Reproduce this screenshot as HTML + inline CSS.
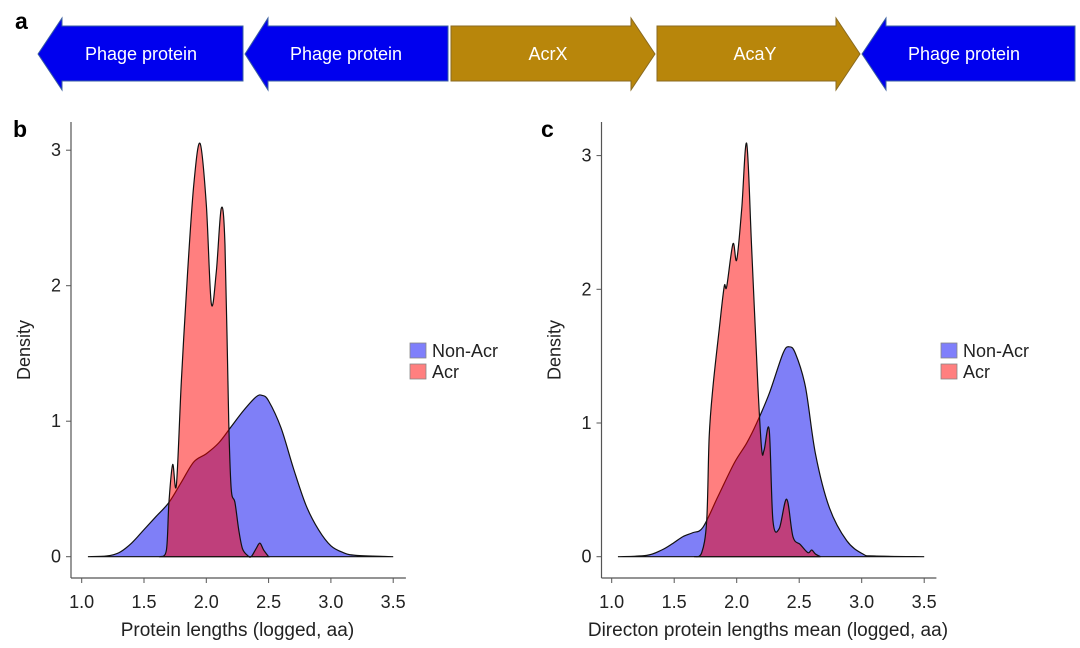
<!DOCTYPE html>
<html><head><meta charset="utf-8">
<style>
body{margin:0;background:#fff;font-family:"Liberation Sans",sans-serif;}
svg text{font-family:"Liberation Sans",sans-serif;}
</style></head>
<body>
<svg id="fig" width="1080" height="643" viewBox="0 0 1080 643">
  <g>
    <text x="15" y="29" font-size="23" font-weight="bold">a</text>
    <polygon points="38,54 62,18 62,26 243,26 243,81 62,81 62,90" fill="#0000ee" stroke="#3a5fa0" stroke-width="1"/>
    <text x="141" y="60" font-size="18" fill="#fff" text-anchor="middle">Phage protein</text>
    <polygon points="245,54 268,18 268,26 448,26 448,81 268,81 268,90" fill="#0000ee" stroke="#3a5fa0" stroke-width="1"/>
    <text x="346" y="60" font-size="18" fill="#fff" text-anchor="middle">Phage protein</text>
    <polygon points="451,26 631,26 631,18 655,54 631,90 631,81 451,81" fill="#b8860b" stroke="#8a6a20" stroke-width="1"/>
    <text x="548" y="60" font-size="18" fill="#fff" text-anchor="middle">AcrX</text>
    <polygon points="657,26 836,26 836,18 860,54 836,90 836,81 657,81" fill="#b8860b" stroke="#8a6a20" stroke-width="1"/>
    <text x="755" y="60" font-size="18" fill="#fff" text-anchor="middle">AcaY</text>
    <polygon points="862,54 886,18 886,26 1075,26 1075,81 886,81 886,90" fill="#0000ee" stroke="#3a5fa0" stroke-width="1"/>
    <text x="964" y="60" font-size="18" fill="#fff" text-anchor="middle">Phage protein</text>
  </g>
  <text x="13" y="137" font-size="23" font-weight="bold">b</text>
  <text x="541" y="137" font-size="23" font-weight="bold">c</text>
  <g id="chartB"></g>
  <g id="chartC"></g>
</svg>
<script>
const xTicks=[1.0,1.5,2.0,2.5,3.0,3.5];
const xTickLabels=["1.0","1.5","2.0","2.5","3.0","3.5"];
const yTicks=[0,1,2,3];
const yTickLabels=["0","1","2","3"];
const seriesNames=["Non-Acr","Acr"];
const bNonAcrX=[1.05,1.2,1.3,1.4,1.5,1.6,1.7,1.8,1.9,2.0,2.1,2.2,2.3,2.4,2.45,2.5,2.6,2.7,2.8,2.9,3.0,3.1,3.2,3.5];
const bNonAcrY=[0,0.005,0.03,0.1,0.2,0.3,0.4,0.55,0.7,0.76,0.84,0.96,1.08,1.18,1.19,1.15,0.95,0.65,0.38,0.2,0.08,0.03,0.01,0];
const bAcrX=[1.63,1.68,1.70,1.73,1.76,1.80,1.85,1.90,1.95,2.00,2.04,2.08,2.12,2.15,2.18,2.20,2.23,2.26,2.29,2.33,2.36,2.40,2.43,2.46,2.50];
const bAcrY=[0,0.05,0.4,0.68,0.53,1.3,2.1,2.75,3.05,2.6,1.87,2.1,2.57,2.3,1.0,0.5,0.4,0.2,0.06,0.01,0,0.06,0.1,0.05,0];
const cNonAcrX=[1.05,1.28,1.4,1.49,1.57,1.65,1.73,1.85,1.98,2.08,2.16,2.26,2.37,2.42,2.47,2.55,2.63,2.74,2.88,3.01,3.1,3.5];
const cNonAcrY=[0,0.01,0.05,0.1,0.15,0.18,0.22,0.45,0.7,0.85,1.0,1.22,1.52,1.57,1.52,1.27,0.77,0.37,0.12,0.02,0.005,0];
const cAcrX=[1.66,1.72,1.76,1.78,1.81,1.86,1.90,1.92,1.97,2.00,2.04,2.08,2.12,2.17,2.20,2.22,2.26,2.29,2.34,2.40,2.45,2.51,2.57,2.60,2.63,2.67];
const cAcrY=[0,0.03,0.27,0.9,1.27,1.7,2.02,2.02,2.34,2.22,2.6,3.09,2.3,1.27,0.8,0.8,0.95,0.27,0.21,0.43,0.15,0.09,0.03,0.05,0.02,0];

const NS="http://www.w3.org/2000/svg";
function mk(tag,attrs,parent){const e=document.createElementNS(NS,tag);for(const k in attrs)e.setAttribute(k,attrs[k]);parent.appendChild(e);return e;}
function smooth(pts){let d="M"+pts[0][0]+","+pts[0][1];for(let i=0;i<pts.length-1;i++){const p0=pts[Math.max(0,i-1)],p1=pts[i],p2=pts[i+1],p3=pts[Math.min(pts.length-1,i+2)];const t=6;const c1=[p1[0]+(p2[0]-p0[0])/t,p1[1]+(p2[1]-p0[1])/t];const c2=[p2[0]-(p3[0]-p1[0])/t,p2[1]-(p3[1]-p1[1])/t];d+=" C"+c1[0]+","+c1[1]+" "+c2[0]+","+c2[1]+" "+p2[0]+","+p2[1];}return d;}
function chart(g,cfg){
  const sx=v=>cfg.x0+(v-1)*cfg.xs, sy=v=>cfg.y0-v*cfg.ys;
  let e;
  e=mk("line",{x1:cfg.ax,y1:122,x2:cfg.ax,y2:578,stroke:"#555","stroke-width":1.2},g);
  
  
  e=mk("line",{x1:cfg.ax,y1:578,x2:cfg.ax+(cfg.x0-cfg.ax)*2+2.5*cfg.xs+2,y2:578,stroke:"#555","stroke-width":1.2},g);
  
  
  yTicks.forEach((v,i)=>{
    e=mk("line",{x1:cfg.ax-5,y1:sy(v),x2:cfg.ax,y2:sy(v),stroke:"#555"},g);
    
    
    e=mk("text",{x:cfg.ax-10,y:sy(v)+6,"font-size":18,"text-anchor":"end",fill:"#222"},g);
    e.textContent=yTickLabels[i];
    
    
  });
  xTicks.forEach((v,i)=>{
    e=mk("line",{x1:sx(v),y1:578,x2:sx(v),y2:583,stroke:"#555"},g);
    
    
    e=mk("text",{x:sx(v),y:608,"font-size":18,"text-anchor":"middle",fill:"#222"},g);
    e.textContent=xTickLabels[i];
    
    
  });
  e=mk("text",{x:(sx(1)+sx(3.5))/2,y:636,"font-size":19,"text-anchor":"middle",fill:"#222"},g);
  e.textContent=cfg.title;
  
  
  e=mk("text",{x:0,y:0,"font-size":18,"text-anchor":"middle",fill:"#222",transform:"translate("+(cfg.ax-41)+",350) rotate(-90)"},g);
  e.textContent="Density";
  
  
  const series=[[cfg.bx,cfg.by,"rgba(0,0,240,0.5)"],[cfg.rx,cfg.ry,"rgba(255,0,0,0.5)"]];
  series.forEach((s,k)=>{
    const pts=s[0].map((x,i)=>[sx(x),sy(s[1][i])]);
    e=mk("path",{d:smooth(pts)+" Z",fill:s[2],stroke:"#111","stroke-width":1.2},g);
    
    
  });
  seriesNames.forEach((n,k)=>{
    e=mk("rect",{x:cfg.lx,y:343+k*21,width:16,height:15,fill:k==0?"#7f7ffb":"#ff7f7f",stroke:"#888","stroke-width":0.8},g);
    
    
    e=mk("text",{x:cfg.lx+22,y:357+k*21,"font-size":18,fill:"#222"},g);
    e.textContent=n;
    
    
  });
}
chart(document.getElementById("chartB"),{x0:81.7,xs:124.6,y0:556.7,ys:135.5,ax:71,lx:410,title:"Protein lengths (logged, aa)",bx:bNonAcrX,by:bNonAcrY,rx:bAcrX,ry:bAcrY});
chart(document.getElementById("chartC"),{x0:611.7,xs:125,y0:556.7,ys:133.7,ax:601.5,lx:941,title:"Directon protein lengths mean (logged, aa)",bx:cNonAcrX,by:cNonAcrY,rx:cAcrX,ry:cAcrY});
</script>
</body></html>
